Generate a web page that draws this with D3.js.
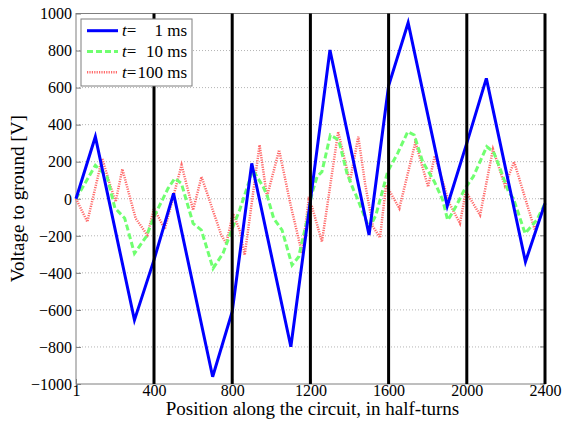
<!DOCTYPE html>
<html><head><meta charset="utf-8">
<script src="https://cdn.jsdelivr.net/npm/d3@7"></script>
<style>body{margin:0;background:#fff;} svg{display:block;} svg text{font-family:"Liberation Serif","Times New Roman",serif !important;}</style>
</head><body>
<svg id="c" width="563" height="430"></svg>
<script>
const xTicks = [1, 400, 800, 1200, 1600, 2000, 2400];
const yTicks = [-1000, -800, -600, -400, -200, 0, 200, 400, 600, 800, 1000];
const sectionLines = [400, 800, 1200, 1600, 2000, 2400];
const seriesNames = ["1 ms", "10 ms", "100 ms"];

const blueX = [1,100,300,400,500,700,800,900,1100,1200,1300,1500,1600,1700,1900,2000,2100,2300,2400];
const blueY = [0,335,-655,-330,29,-961,-610,191,-799,-10,803,-196,610,950,-39,300,650,-340,-25];

const greenX = [1,100,160,200,250,300,360,400,472,506,540,600,642,702,753,804,838,906,958,978,1012,1055,1106,1140,1183,1208,1234,1259,1302,1345,1387,1421,1433,1484,1501,1535,1570,1595,1646,1698,1731,1774,1834,1877,1902,1914,1948,1991,2033,2102,2136,2170,2213,2238,2298,2358,2400];
const greenY = [0,180,120,-50,-105,-295,-205,-97,56,110,83,-133,-169,-376,-295,-151,-61,155,65,20,-106,-169,-358,-313,-115,29,119,146,344,317,137,47,20,-115,-160,-88,47,146,245,362,344,200,92,-7,-115,-97,-34,56,119,281,254,164,38,2,-187,-115,-25];

const redX = [1,59,135,178,204,238,306,366,400,455,541,600,643,744,770,804,838,864,940,978,1040,1097,1157,1191,1208,1259,1342,1402,1445,1480,1520,1556,1587,1600,1655,1737,1802,1836,1911,1965,1995,2068,2134,2195,2242,2348,2400];
const redY = [0,-124,218,65,-16,160,-106,-196,-52,-165,182,-61,119,-196,-241,-79,-169,-304,290,11,263,-25,-295,-7,-43,-232,362,92,335,80,-150,-210,74,50,-52,305,65,232,-25,-133,40,-88,268,70,200,-169,-34];

const svg = d3.select("#c");
const L = 76, R = 545, T = 13.5, B = 384;
const x = d3.scaleLinear().domain([1, 2400]).range([L, R]);
const y = d3.scaleLinear().domain([-1000, 1000]).range([B, T]);

svg.append("rect").attr("x", L).attr("y", T).attr("width", R - L).attr("height", B - T).attr("fill", "#fff");

// horizontal grid
svg.append("g").selectAll("line").data(yTicks.filter(d => d > -1000 && d < 1000)).join("line")
  .attr("x1", L).attr("x2", R).attr("y1", d => y(d)).attr("y2", d => y(d))
  .attr("stroke", "#b4b4b4").attr("stroke-width", 1).attr("stroke-dasharray", "1,2");

const axisColor = "#7f7f7f";
svg.append("rect").attr("x", L).attr("y", T).attr("width", R - L).attr("height", B - T)
  .attr("fill", "none").attr("stroke", axisColor).attr("stroke-width", 1);

// y axis
const yAxis = d3.axisLeft(y).tickValues(yTicks).tickSizeInner(-5).tickSizeOuter(0).tickPadding(0).tickFormat(d3.format("d"));
const gy = svg.append("g").attr("transform", `translate(${L},0)`).call(yAxis);
gy.attr("font-family", null);
gy.select(".domain").remove();
gy.selectAll(".tick line").attr("stroke", axisColor);
gy.selectAll(".tick text").attr("font-size", 16).attr("fill", "#000").attr("x", -4).attr("dy", "0.33em");
svg.append("g").selectAll("line").data(yTicks).join("line")
  .attr("x1", R).attr("x2", R - 5).attr("y1", d => y(d)).attr("y2", d => y(d)).attr("stroke", axisColor);

// x axis
const xAxis = d3.axisBottom(x).tickValues(xTicks).tickSizeInner(-5).tickSizeOuter(0).tickPadding(0).tickFormat(d3.format("d"));
const gx = svg.append("g").attr("transform", `translate(0,${B})`).call(xAxis);
gx.attr("font-family", null);
gx.select(".domain").remove();
gx.selectAll(".tick line").attr("stroke", axisColor);
gx.selectAll(".tick text").attr("font-size", 16).attr("fill", "#000").attr("y", 12).attr("dy", 0);

// series
const line = d3.line().x(d => x(d[0])).y(d => y(d[1]));
const zip = (a, b) => a.map((v, i) => [v, b[i]]);
const styles = [
  {data: zip(blueX, blueY), stroke: "#0000ff", width: 3, dash: null},
  {data: zip(greenX, greenY), stroke: "#70ff70", width: 3, dash: "6,3"},
  {data: zip(redX, redY), stroke: "#ff6a6a", width: 2.5, dash: "1.2,1.2"}
];
const plotG = svg.append("g");
[styles[2], styles[1], styles[0]].forEach(s => {
  plotG.append("path").datum(s.data).attr("d", line).attr("fill", "none")
    .attr("stroke", s.stroke).attr("stroke-width", s.width)
    .attr("stroke-dasharray", s.dash).attr("stroke-linejoin", "miter");
});

// section lines
svg.append("g").selectAll("line").data(sectionLines).join("line")
  .attr("x1", d => x(d)).attr("x2", d => x(d)).attr("y1", T).attr("y2", B)
  .attr("stroke", "#000").attr("stroke-width", 3);

// legend
const lg = svg.append("g");
lg.append("rect").attr("x", 81).attr("y", 19).attr("width", 111).attr("height", 67)
  .attr("fill", "#fff").attr("stroke", axisColor).attr("stroke-width", 1);
styles.forEach((s, i) => {
  const yy = 30.7 + i * 20.8;
  lg.append("line").attr("x1", 87).attr("x2", 118).attr("y1", yy).attr("y2", yy)
    .attr("stroke", s.stroke).attr("stroke-width", s.width).attr("stroke-dasharray", s.dash);
  const t = lg.append("text").attr("x", 122).attr("y", yy + 5.5).attr("font-size", 17).attr("fill", "#000");
  t.append("tspan").attr("font-style", "italic").text("t");
  t.append("tspan").text("=");
  lg.append("text").attr("x", 187).attr("y", yy + 5.5).attr("font-size", 17).attr("fill", "#000")
    .attr("text-anchor", "end").text(seriesNames[i]);
});

// axis titles
svg.append("text").attr("x", (L + R) / 2 + 2).attr("y", 415).attr("text-anchor", "middle")
  .attr("font-size", 19).attr("fill", "#000").text("Position along the circuit, in half-turns");
svg.append("text").attr("transform", `translate(24,${(T + B) / 2}) rotate(-90)`).attr("text-anchor", "middle")
  .attr("font-size", 19).attr("fill", "#000").text("Voltage to ground [V]");
</script>
</body></html>
